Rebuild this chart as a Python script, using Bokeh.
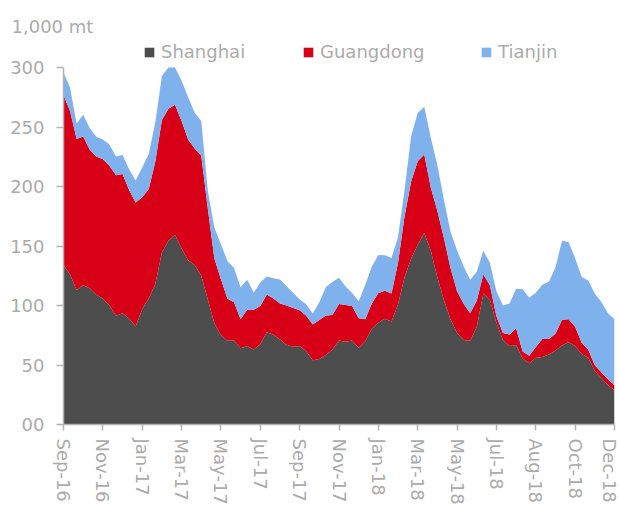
from bokeh.plotting import figure
from bokeh.models import ColumnDataSource, FixedTicker, Legend, LegendItem, Range1d
from bokeh.embed import file_html
from bokeh.resources import INLINE

# Weekly stocks, 1,000 mt
shanghai = [134, 126, 113, 117, 114.5, 109, 106, 100, 91.5, 93.5,
            89, 82.4, 97, 106, 118, 144.6, 154.5, 159.5, 148, 138,
            134, 125, 105, 85, 75, 70.4, 70.6, 64, 66, 63,
            67.5, 77.5, 75.5, 71.5, 67, 65.3, 66, 61.5, 54, 55,
            58.5, 63, 70.5, 69.5, 70.5, 64.5, 70, 80.5, 85.5, 88.8,
            86.5, 101, 124, 139.5, 151, 161, 146, 123.5, 104.5, 88.5,
            77, 71, 70.4, 82, 110, 105, 85.5, 71, 66, 66.7,
            55.4, 51.5, 56.2, 56.8, 58.9, 62.3, 66.4, 69.3, 66, 59.2,
            56, 45, 39, 33.3, 28.8]
guangdong = [143, 137.5, 127, 125, 116.5, 116.3, 117, 117.5, 117.9, 117,
             108, 104.1, 94, 92, 103, 111.4, 111, 109.3, 107, 101.6,
             98, 101, 76.5, 54.5, 47, 35.3, 32.1, 24.5, 30.5, 33.4,
             32.1, 31.8, 30.4, 30.3, 33, 32.7, 30, 30, 30, 32.9,
             33.1, 29, 30.8, 31, 29, 24.9, 18.5, 21.3, 25, 23.7,
             23.6, 35, 51.3, 64.8, 70.2, 66, 53, 56, 52.1, 43,
             35, 30.5, 23.2, 22, 16, 12, 5.5, 6, 9.7, 14.3,
             5.9, 6.2, 9, 15, 12.9, 14, 21.6, 19.2, 16.1, 9.5,
             6.9, 4.7, 4.9, 4.7, 4.2]
tianjin = [19, 19.5, 13, 18.3, 18, 16.6, 16.6, 17.9, 15.9, 16,
           17.5, 18.5, 25, 29.6, 33, 37, 34.5, 31.2, 34, 35.4,
           30, 29, 15, 26.1, 29.5, 31.6, 28.8, 26.8, 25.2, 14.5,
           19.7, 15.1, 17.1, 20, 16.2, 12.7, 9, 9.5, 9.4, 14.9,
           24, 27.7, 22.1, 15.5, 11, 14.1, 28.8, 31, 32, 29.8,
           29.9, 21.5, 22, 38.2, 40.6, 40, 42, 38.5, 32.4, 30.5,
           34.5, 31.3, 28.1, 24.4, 20, 19, 21, 23, 26.1, 33,
           52.3, 48.8, 45.6, 45.6, 48.2, 55.7, 66.5, 64.8, 57.7, 55.2,
           58.1, 60.3, 59.1, 55.5, 55.5]

tick_labels = ["Sep-16", "Nov-16", "Jan-17", "Mar-17", "May-17", "Jul-17", "Sep-17",
               "Nov-17", "Jan-18", "Mar-18", "May-18", "Jul-18", "Aug-18", "Oct-18", "Dec-18"]
y_ticks = [0, 50, 100, 150, 200, 250, 300]
y_tick_labels = ["00", "50", "100", "150", "200", "250", "300"]
series_names = ["Shanghai", "Guangdong", "Tianjin"]
colors = ["#4D4D4D", "#D70016", "#7FB2EC"]
unit_label = "1,000 mt"

n = len(shanghai)
step = (n - 1) // (len(tick_labels) - 1)
source = ColumnDataSource(dict(x=list(range(n)), sh=shanghai, gd=guangdong, tj=tianjin))

TEXT = "#ABABAB"
AXIS = "#B3B3B3"
FONT = "DejaVu Sans"

# frame: top at TOP px, bottom at 428 px; value 300 sits at ~67 px
TOP, BOTTOM = 36, 79
frame_h = 507 - TOP - BOTTOM
y_top = y_ticks[-1] * frame_h / (frame_h - (67.4 - TOP))

p = figure(width=619, height=507, output_backend="svg", toolbar_location=None,
           x_range=Range1d(0, n - 1), y_range=Range1d(0, y_top),
           min_border_left=63, min_border_right=5, min_border_top=TOP, min_border_bottom=BOTTOM)
p.xgrid.visible = False
p.ygrid.visible = False
p.outline_line_color = None
p.background_fill_color = "white"
p.border_fill_color = "white"

p.title.text = unit_label
p.title.align = "left"
p.title.offset = -52
p.title.text_font = FONT
p.title.text_font_size = "18px"
p.title.text_font_style = "normal"
p.title.text_color = TEXT
p.title.standoff = 0

rs = p.varea_stack(stackers=["sh", "gd", "tj"], x="x", color=colors, source=source)

for ax in (p.xaxis[0], p.yaxis[0]):
    ax.axis_line_color = AXIS
    ax.axis_line_width = 1.5
    ax.major_tick_line_color = AXIS
    ax.major_tick_line_width = 1.5
    ax.major_tick_in = 0
    ax.minor_tick_line_color = None
    ax.major_label_text_color = TEXT
    ax.major_label_text_font = FONT
    ax.major_label_text_font_size = "18px"

p.yaxis[0].ticker = FixedTicker(ticks=y_ticks)
p.yaxis[0].bounds = (y_ticks[0], y_ticks[-1])
p.yaxis[0].major_label_overrides = dict(zip(y_ticks, y_tick_labels))
p.yaxis[0].major_tick_out = 7
p.yaxis[0].major_label_standoff = 12

x_ticks = list(range(0, n, step))
p.xaxis[0].ticker = FixedTicker(ticks=x_ticks)
p.xaxis[0].major_label_overrides = dict(zip(x_ticks, tick_labels))
p.xaxis[0].major_label_orientation = "vertical"
p.xaxis[0].major_tick_out = 6
p.xaxis[0].major_label_standoff = 8

legend_x = [80, 239, 417]
for r, name, lx in zip(rs, series_names, legend_x):
    lg = Legend(items=[LegendItem(label=name, renderers=[r])], location=(lx, 362),
                orientation="horizontal", padding=0, margin=0, spacing=0,
                border_line_color=None, background_fill_alpha=0,
                glyph_width=12, glyph_height=12, label_standoff=6,
                label_text_font=FONT, label_text_font_size="18px",
                label_text_color=TEXT, label_height=12)
    p.add_layout(lg)

open("out.html", "w").write(file_html(p, INLINE))
